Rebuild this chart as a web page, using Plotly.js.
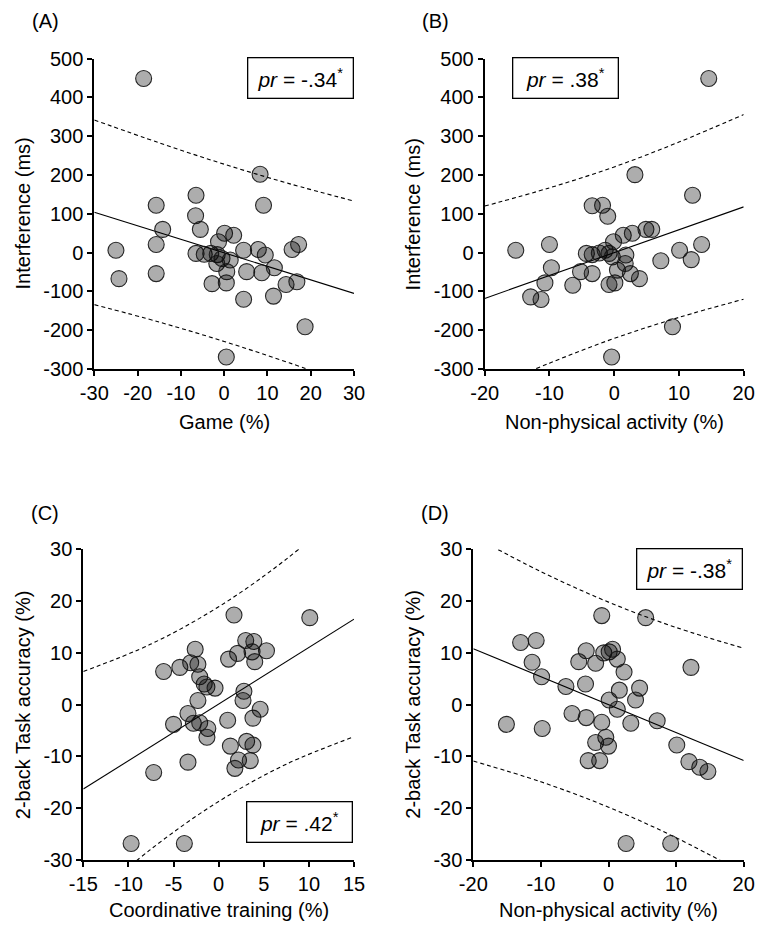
<!DOCTYPE html>
<html>
<head>
<meta charset="utf-8">
<script src="https://cdn.plot.ly/plotly-3.0.1.min.js"></script>
<style>
html,body{margin:0;padding:0;background:#fff;}
#chart{width:758px;height:925px;}
</style>
</head>
<body>
<div id="chart"></div>
<script>
// ---------- Panel A: Game (%) vs Interference (ms) ----------
var gameX = [-18.6, 8.3, 9.1, -15.7, -6.5, -6.6, -14.2, -5.5, -25.0, -15.7, -15.7, -24.3, -6.5, -4.6, -3.1, -1.3, 0.1, 2.2, -1.6, -0.5, -1.7, 1.4, 0.6, -2.8, 0.5, 4.5, 5.2, 4.5, 7.9, 9.5, 8.7, 11.6, 11.4, 14.3, 15.7, 17.2, 16.8, 18.7, 0.5];
var interfA = [449, 202, 122, 122, 148, 95, 60, 60, 6, 21, -54, -67, -2, -4, -2, 28, 50, 45, -5, -15, -28, -19, -49, -80, -78, 6, -49, -120, 8, -6, -52, -39, -112, -82, 8, 21, -75, -191, -269];
var fitXA = [-30, 30];
var fitYA = [104, -105];
var bandXA = [-30, -15, 0, 15, 30];
var bandUpA = [342, 283, 228, 178, 133];
var bandLoA = [-134, -179, -229, -284, -343];

// ---------- Panel B: Non-physical activity (%) vs Interference (ms) ----------
var nonphysXB = [14.6, 3.2, 12.1, -3.4, -1.8, -1.0, -15.2, -10.0, -9.7, -10.7, -12.9, -11.3, -6.4, -5.2, -3.4, -4.3, -3.4, -2.3, -1.4, -0.8, -0.3, -0.1, -0.8, 0.1, 0.5, 1.8, 1.7, 1.4, 2.8, 2.5, 3.9, 4.9, 5.8, 7.2, 10.1, 11.9, 13.5, 9.0, -0.4];
var interfB = [449, 201, 148, 121, 122, 94, 6, 21, -39, -78, -114, -121, -84, -49, -54, -2, -5, -1, 6, -2, -11, 28, -82, -78, -45, -6, -28, 45, 50, -54, -67, 60, 60, -21, 6, -18, 21, -191, -269];
var fitXB = [-20, 20];
var fitYB = [-118, 118];
var bandXB = [-20, -10, 0, 10, 20];
var bandUpB = [120, 167, 221, 285, 356];
var bandLoB = [-356, -285, -221, -167, -120];

// ---------- Panel C: Coordinative training (%) vs 2-back accuracy (%) ----------
var coordXC = [-6.1, -4.3, -2.6, -3.1, -2.3, -2.1, -1.6, -1.3, -0.4, 1.7, 1.1, 2.1, 3.0, 3.9, 3.7, 5.3, 4.0, 10.1, 2.8, 2.7, -2.3, -3.4, -5.0, -2.8, -2.1, -1.2, -1.3, 1.0, 3.8, 4.6, 1.3, 3.1, 3.8, 2.2, 3.5, 1.8, -3.4, -7.2, -9.7, -3.8];
var accC = [6.4, 7.2, 10.7, 8.1, 7.8, 5.4, 4.0, 3.4, 3.2, 17.3, 8.8, 9.9, 12.4, 12.2, 10.2, 10.4, 8.3, 16.8, 2.6, 0.8, 0.8, -1.7, -3.8, -3.6, -3.5, -4.6, -6.3, -3.0, -2.6, -0.9, -8.0, -7.1, -7.8, -10.7, -10.8, -12.3, -11.1, -13.1, -26.8, -26.8];
var fitXC = [-15, 15];
var fitYC = [-16.3, 16.5];
var bandXC = [-15, -7.5, 0, 7.5, 15];
var bandUpC = [6.4, 11.7, 18.9, 28.1, 39.2];
var bandLoC = [-39.0, -27.9, -18.7, -11.5, -6.2];

// ---------- Panel D: Non-physical activity (%) vs 2-back accuracy (%) ----------
var nonphysXD = [-1.0, 5.5, -13.0, -10.7, -11.3, -9.9, -6.3, -3.3, -4.4, -1.9, -0.7, 0.1, 0.6, 1.3, 2.3, -3.4, 1.6, 4.6, 12.2, 0.1, 4.0, 1.3, -15.1, -9.8, -5.4, -3.3, -1.0, 3.3, 7.2, -0.4, -1.9, 0.0, -3.0, -1.3, 10.1, 11.9, 13.5, 14.7, 2.6, 9.2];
var accD = [17.2, 16.8, 12.0, 12.4, 8.2, 5.4, 3.5, 10.4, 8.3, 8.0, 10.0, 10.2, 10.7, 8.8, 6.3, 4.0, 2.8, 3.2, 7.2, 0.9, 0.9, -0.9, -3.8, -4.6, -1.7, -2.5, -3.4, -3.6, -3.1, -6.3, -7.3, -8.0, -10.8, -10.8, -7.8, -11.0, -12.1, -12.9, -26.8, -26.8];
var fitXD = [-20, 20];
var fitYD = [10.8, -10.8];
var bandXD = [-20, -10, 0, 10, 20];
var bandUpD = [32.5, 25.7, 19.8, 14.9, 10.9];
var bandLoD = [-10.9, -14.9, -19.8, -25.7, -32.5];

// ---------- Ticks ----------
var ticksX30 = [-30, -20, -10, 0, 10, 20, 30];
var labelsX30 = ["-30", "-20", "-10", "0", "10", "20", "30"];
var ticksX20 = [-20, -10, 0, 10, 20];
var labelsX20 = ["-20", "-10", "0", "10", "20"];
var ticksX15 = [-15, -10, -5, 0, 5, 10, 15];
var labelsX15 = ["-15", "-10", "-5", "0", "5", "10", "15"];
var ticksY500 = [-300, -200, -100, 0, 100, 200, 300, 400, 500];
var labelsY500 = ["-300", "-200", "-100", "0", "100", "200", "300", "400", "500"];
var ticksY30 = [-30, -20, -10, 0, 10, 20, 30];
var labelsY30 = ["-30", "-20", "-10", "0", "10", "20", "30"];

// ---------- Texts ----------
var panelLabels = ["(A)", "(B)", "(C)", "(D)"];
var xTitles = ["Game (%)", "Non-physical activity (%)", "Coordinative training (%)", "Non-physical activity (%)"];
var yTitles = ["Interference (ms)", "Interference (ms)", "2-back Task accuracy (%)", "2-back Task accuracy (%)"];
var prTexts = ["-.34", ".38", ".42", "-.38"];

// ---------- Build ----------
var W = 758, H = 925;
function PX(p){ return p / W; }
function PY(p){ return 1 - p / H; }
var FONT = "Liberation Sans, Arial, Helvetica, sans-serif";

var markerStyle = {size: 16, color: 'rgba(0,0,0,0.32)', line: {color: 'rgba(20,20,20,0.9)', width: 1.1}};
var fitStyle = {color: 'black', width: 1.1};
var bandStyle = {color: 'black', width: 1.1, dash: '4px,3px', shape: 'spline'};

var panels = [
  {x: gameX, y: interfA, fx: fitXA, fy: fitYA, bx: bandXA, bu: bandUpA, bl: bandLoA, xa: 'x', ya: 'y'},
  {x: nonphysXB, y: interfB, fx: fitXB, fy: fitYB, bx: bandXB, bu: bandUpB, bl: bandLoB, xa: 'x2', ya: 'y2'},
  {x: coordXC, y: accC, fx: fitXC, fy: fitYC, bx: bandXC, bu: bandUpC, bl: bandLoC, xa: 'x3', ya: 'y3'},
  {x: nonphysXD, y: accD, fx: fitXD, fy: fitYD, bx: bandXD, bu: bandUpD, bl: bandLoD, xa: 'x4', ya: 'y4'}
];

var traces = [];
panels.forEach(function(p){
  traces.push({type: 'scatter', mode: 'lines', x: p.bx, y: p.bu, xaxis: p.xa, yaxis: p.ya, line: bandStyle, hoverinfo: 'skip'});
  traces.push({type: 'scatter', mode: 'lines', x: p.bx, y: p.bl, xaxis: p.xa, yaxis: p.ya, line: bandStyle, hoverinfo: 'skip'});
  traces.push({type: 'scatter', mode: 'lines', x: p.fx, y: p.fy, xaxis: p.xa, yaxis: p.ya, line: fitStyle, hoverinfo: 'skip'});
  traces.push({type: 'scatter', mode: 'markers', x: p.x, y: p.y, xaxis: p.xa, yaxis: p.ya, marker: markerStyle});
});

function ax(domain, range, vals, text, anchor){
  return {
    domain: domain, range: range, anchor: anchor,
    tickmode: 'array', tickvals: vals, ticktext: text,
    showline: true, linecolor: 'black', linewidth: 2,
    ticks: 'outside', ticklen: 5, tickwidth: 2, tickcolor: 'black',
    showgrid: false, zeroline: false, fixedrange: true,
    tickfont: {family: FONT, size: 20, color: 'black'}
  };
}

// plot-area pixel boxes [left, right, top, bottom]
var boxes = [
  [94.3, 354.0, 58.7, 369.0],
  [484.7, 743.7, 58.7, 369.0],
  [83.3, 354.0, 549.3, 860.0],
  [473.3, 743.7, 549.3, 860.0]
];
function dx(b){ return [PX(b[0]), PX(b[1])]; }
function dy(b){ return [PY(b[3]), PY(b[2])]; }

var layout = {
  width: W, height: H,
  margin: {l: 0, r: 0, t: 0, b: 0},
  paper_bgcolor: 'white', plot_bgcolor: 'white',
  showlegend: false,
  font: {family: FONT, size: 20, color: 'black'},
  xaxis:  ax(dx(boxes[0]), [-30, 30], ticksX30, labelsX30, 'y'),
  yaxis:  ax(dy(boxes[0]), [-300, 500], ticksY500, labelsY500, 'x'),
  xaxis2: ax(dx(boxes[1]), [-20, 20], ticksX20, labelsX20, 'y2'),
  yaxis2: ax(dy(boxes[1]), [-300, 500], ticksY500, labelsY500, 'x2'),
  xaxis3: ax(dx(boxes[2]), [-15, 15], ticksX15, labelsX15, 'y3'),
  yaxis3: ax(dy(boxes[2]), [-30, 30], ticksY30, labelsY30, 'x3'),
  xaxis4: ax(dx(boxes[3]), [-20, 20], ticksX20, labelsX20, 'y4'),
  yaxis4: ax(dy(boxes[3]), [-30, 30], ticksY30, labelsY30, 'x4'),
  annotations: []
};

var labelPos = [[30, 20.7], [419.7, 20.7], [29.3, 512.7], [419, 512.7]];
var xTitlePos = [[224, 421.7], [614, 421.7], [219, 910], [608.7, 910]];
var yTitlePos = [[22.5, 214], [413.4, 214], [22.5, 704.7], [413, 704.7]];
var prPos = [[300, 78.2], [565, 78.2], [299.3, 821.5], [689.7, 569.2]];

for (var i = 0; i < 4; i++){
  layout.annotations.push({xref: 'paper', yref: 'paper', x: PX(labelPos[i][0]), y: PY(labelPos[i][1]),
    xanchor: 'left', yanchor: 'middle', showarrow: false, text: panelLabels[i], font: {family: FONT, size: 20}});
  layout.annotations.push({xref: 'paper', yref: 'paper', x: PX(xTitlePos[i][0]), y: PY(xTitlePos[i][1]),
    xanchor: 'center', yanchor: 'middle', showarrow: false, text: xTitles[i], font: {family: FONT, size: 20}});
  layout.annotations.push({xref: 'paper', yref: 'paper', x: PX(yTitlePos[i][0]), y: PY(yTitlePos[i][1]),
    xanchor: 'center', yanchor: 'middle', showarrow: false, textangle: -90, text: yTitles[i], font: {family: FONT, size: 20}});
  layout.annotations.push({xref: 'paper', yref: 'paper', x: PX(prPos[i][0]), y: PY(prPos[i][1]),
    xanchor: 'center', yanchor: 'middle', showarrow: false,
    text: '<i>pr</i> = ' + prTexts[i] + '<sup>*</sup>',
    font: {family: FONT, size: 21}, bordercolor: 'black', borderwidth: 1.3, borderpad: 0,
    width: 104, height: 39, bgcolor: 'white'});
}

Plotly.newPlot('chart', traces, layout, {staticPlot: true, displayModeBar: false});
</script>
</body>
</html>
